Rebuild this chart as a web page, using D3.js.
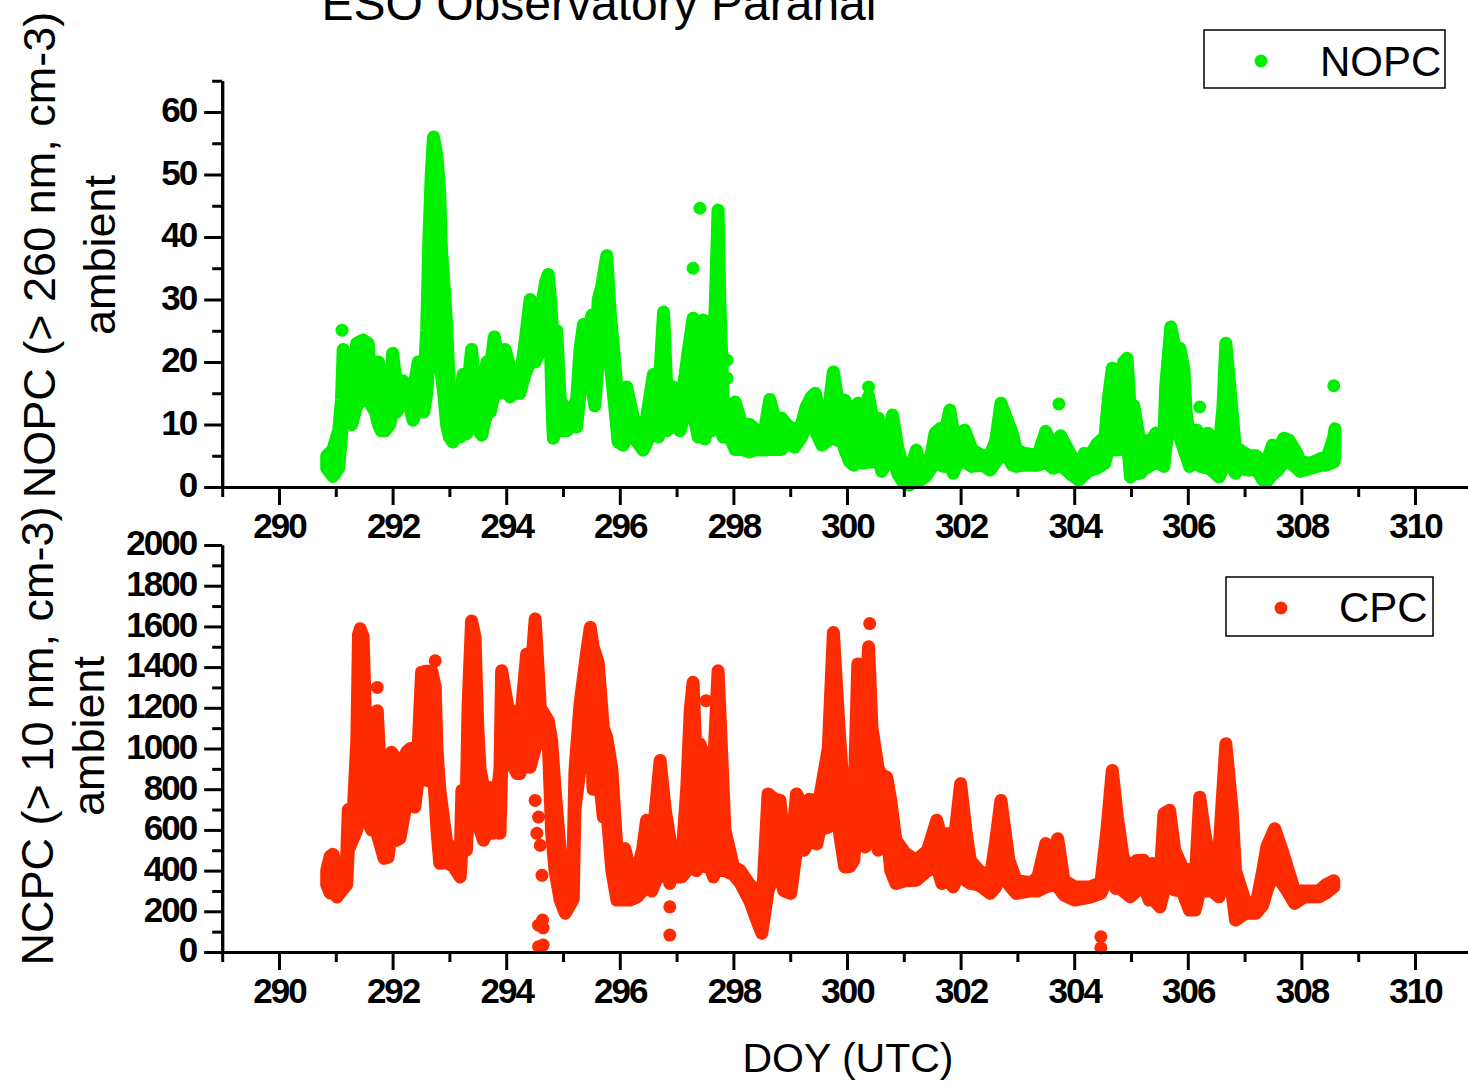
<!DOCTYPE html>
<html>
<head>
<meta charset="utf-8">
<script src="https://cdnjs.cloudflare.com/ajax/libs/d3/7.8.5/d3.min.js"></script>
<style>
body { margin:0; background:#ffffff; }
svg { display:block; font-family:"Liberation Sans", Arial, sans-serif; }
.axis path, .axis line { stroke:#000; stroke-width:3px; }
.axis text { font-weight:bold; font-size:35px; letter-spacing:-2px; fill:#000; }
.label { fill:#000; }
</style>
</head>
<body>
<svg id="chart"></svg>
<script>
// tick values
var doyMajor = [290,292,294,296,298,300,302,304,306,308,310];
var doyMinor = [289,291,293,295,297,299,301,303,305,307,309,311];
var nopcMajor = [0,10,20,30,40,50,60];
var nopcMinor = [5,15,25,35,45,55,65];
var cpcMajor = [0,200,400,600,800,1000,1200,1400,1600,1800,2000];
var cpcMinor = [100,300,500,700,900,1100,1300,1500,1700,1900];

// NOPC (> 260 nm): spread of the dense points (lowest / highest) at each DOY
var nopcDoy = [290.84,290.95,291.05,291.10,291.13,291.20,291.28,291.37,291.48,291.57,
    291.63,291.70,291.75,291.80,291.87,291.95,292.00,292.07,292.18,292.27,
    292.36,292.45,292.55,292.60,292.64,292.68,292.72,292.78,292.83,292.86,
    292.90,292.95,293.00,293.06,293.13,293.19,293.24,293.30,293.39,293.45,
    293.57,293.66,293.72,293.79,293.89,293.98,294.07,294.15,294.24,294.33,
    294.42,294.51,294.60,294.70,294.74,294.78,294.81,294.83,294.89,294.95,
    295.07,295.15,295.24,295.30,295.36,295.44,295.51,295.56,295.62,295.68,
    295.77,295.83,295.92,295.97,296.06,296.12,296.24,296.41,296.47,296.59,
    296.68,296.77,296.83,296.94,297.06,297.15,297.21,297.29,297.38,297.47,
    297.50,297.56,297.62,297.68,297.73,297.76,297.82,297.94,298.03,298.15,
    298.29,298.41,298.53,298.64,298.76,298.85,298.94,299.08,299.20,299.28,
    299.37,299.44,299.56,299.67,299.76,299.82,299.90,299.96,300.05,300.12,
    300.19,300.28,300.38,300.45,300.55,300.61,300.70,300.80,300.90,301.00,
    301.09,301.22,301.29,301.39,301.48,301.55,301.65,301.71,301.81,301.87,
    301.95,302.07,302.20,302.39,302.52,302.62,302.71,302.82,302.91,302.98,
    303.11,303.36,303.50,303.63,303.76,303.95,304.08,304.18,304.28,304.40,
    304.54,304.60,304.67,304.73,304.80,304.87,304.93,304.99,305.05,305.16,
    305.25,305.32,305.44,305.58,305.61,305.70,305.78,305.86,305.93,305.97,
    306.03,306.16,306.22,306.36,306.42,306.55,306.62,306.67,306.74,306.84,
    306.90,307.07,307.20,307.32,307.39,307.49,307.59,307.69,307.78,307.92,
    307.98,308.17,308.36,308.43,308.57,308.59];
var nopcLow = [3,1.7,3,8,12,11,10,13,14,14,
    13,12,10,9,9,10,12,12,14,14,
    10.7,13,12,15,20,22,25,20,20,18,
    15,10,8,7.2,8,8,9,8.5,10,10,
    8.3,12,12,15,15,16,14.4,15,15,18,
    20,20,22,25,26,22,12,7.8,10,9,
    9,10,9.6,15,20,21,16,13,20,25,
    27,20,12,7.2,6.7,8,8,5.9,7,10,
    8,12,9,10,9,12,14,12,8,10,
    7.7,10,9,10,12,10,8,8,6,6,
    5.6,6,5.9,6,6,6,7,6.4,8,10,
    10,9,6.7,7.5,9,7.5,8,6,4,3.5,
    5,3.8,4,4,5,2.5,4,5,2,0.6,
    0.3,1,1.1,1.7,3,4,3.5,3.3,4,2.2,
    4,4,3.3,3.5,2.7,4,5,5,3.5,3.3,
    3.5,3.5,4,3,3.5,2,1.1,2,2.7,3,
    3.8,6,8,5.9,6,10,8,1.6,2,2.2,
    3,3.3,4,3.3,6,12,8.6,8,6,5,
    3.3,4,3.3,3,2.7,1.6,3,5,4,2.2,
    3,2.7,3,1.1,0.9,2,2.7,4,4,3,
    2.5,3,3.5,3.5,4,5];
var nopcHigh = [5,6,9,14,22,17,15,23,23.5,23,
    16,18,20,15,12,14,21.4,16,17,16,
    15,20,17,25,40,50,56,53,47,38,
    33,26,16,13,15,14,18,14,22,16,
    14,20,19,24,19,22,19,18,17,23,
    30,26,28,33,34,30,26,24,25,14,
    12,12,14,22,26,25,27.5,20,30,32,
    37,28,19,13,10,16,11,9,11,18,
    14,28,15,16,13,18,22,27,20,26.7,
    18,20,18,29,44.3,30,14,12,13.6,10,
    10,9,8,14,10,11,10,9,10,12.8,
    14.4,15,10,12,18.4,15,12,13.9,12,10,
    13.4,12,14.5,11,11,8,6,11.5,6,3,
    2,5.9,3,4,5,8.6,9.4,8,12.3,9,
    8,9.1,6,5,5,7.5,13.4,10.7,8.6,6,
    5.4,5,8.9,6,8.2,5,3,5.4,5,6.9,
    8,14,19,16,16,20,20.6,12,13,7,
    7.4,7,8.6,8,16,25.6,22,22.2,18.9,12,
    8,9.1,8,8.6,7,6,13,23,16,6,
    6,5,5,4,4,6.7,6,7.8,7.5,5.4,
    4,3.8,4.6,4,8,9.3];
// isolated NOPC points
var nopcOutDoy = [291.11,297.29,297.41,297.89,297.89,300.38,303.73,306.21,308.57];
var nopcOutVal = [25.1,35,44.6,20.3,17.4,16,13.3,12.8,16.2];

// CPC (> 10 nm): spread of the dense points (lowest / highest) at each DOY
var cpcDoy = [290.84,290.90,290.95,291.02,291.10,291.19,291.22,291.31,291.37,291.40,
    291.43,291.48,291.54,291.60,291.63,291.70,291.73,291.78,291.85,291.92,
    291.98,292.07,292.13,292.25,292.31,292.39,292.45,292.51,292.60,292.69,
    292.75,292.78,292.83,292.95,293.07,293.19,293.22,293.30,293.33,293.39,
    293.45,293.50,293.54,293.60,293.69,293.77,293.83,293.89,293.92,294.04,
    294.07,294.19,294.24,294.36,294.42,294.51,294.56,294.60,294.74,294.80,
    294.86,294.95,295.04,295.10,295.18,295.21,295.30,295.42,295.48,295.53,
    295.62,295.71,295.77,295.86,295.95,296.09,296.18,296.30,296.40,296.47,
    296.56,296.71,296.80,296.94,297.09,297.18,297.24,297.29,297.35,297.41,
    297.50,297.59,297.65,297.73,297.79,297.85,298.00,298.12,298.29,298.41,
    298.50,298.61,298.73,298.82,298.89,299.01,299.11,299.17,299.24,299.34,
    299.47,299.52,299.67,299.76,299.86,299.96,300.05,300.12,300.19,300.25,
    300.32,300.38,300.44,300.55,300.61,300.70,300.77,300.86,301.03,301.22,
    301.42,301.58,301.67,301.78,301.87,302.00,302.10,302.17,302.32,302.52,
    302.62,302.71,302.85,302.98,303.24,303.36,303.50,303.63,303.71,303.82,
    304.01,304.28,304.47,304.57,304.67,304.76,304.86,304.99,305.10,305.22,
    305.32,305.38,305.51,305.58,305.68,305.77,305.90,306.03,306.13,306.21,
    306.29,306.42,306.55,306.67,306.78,306.84,307.01,307.20,307.32,307.39,
    307.53,307.66,307.75,307.88,308.05,308.31,308.43,308.57];
var cpcLow = [330,290,300,270,300,330,500,560,600,700,
    750,700,640,620,600,600,580,530,460,466,
    600,549,560,745,745,712,850,900,843,1000,
    745,600,436,440,420,369,500,500,700,1000,
    800,640,600,549,600,583,600,583,900,941,
    941,877,877,1000,908,1000,1040,1039,1039,583,
    400,255,191,220,260,700,900,1000,1200,800,
    900,663,700,400,255,255,255,270,300,350,
    300,400,369,369,369,400,500,500,400,450,
    419,419,369,500,400,400,380,340,250,157,
    92,300,400,369,300,288,500,550,500,550,
    531,600,614,800,600,418,420,451,700,600,
    516,800,614,500,516,600,400,337,350,353,
    400,420,337,350,320,400,350,337,330,288,
    320,400,330,288,300,300,320,330,320,280,
    255,270,288,350,400,350,300,271,300,330,
    255,260,222,300,400,304,300,206,206,300,
    300,300,271,400,288,157,190,190,230,300,
    400,337,300,239,270,271,290,320];
var cpcHigh = [400,470,480,400,380,450,700,700,1040,1560,
    1588,1550,1000,900,1000,1000,1186,900,700,750,
    982,950,900,985,1000,1000,1006,1374,1380,1380,
    1300,1000,800,540,500,470,794,800,1219,1627,
    1550,1100,900,810,810,800,745,900,1382,1186,
    1150,1186,1100,1464,1300,1637,1400,1200,1137,1039,
    800,500,300,320,500,890,1220,1480,1595,1500,
    1420,1100,1055,900,500,508,400,400,500,647,
    500,941,700,450,450,810,1186,1325,900,1023,
    950,877,900,1382,1000,600,420,400,330,300,
    200,777,750,745,550,470,777,745,700,750,
    745,760,1000,1570,1100,700,600,700,1415,1300,
    1200,1500,1100,900,870,859,745,550,484,450,
    500,647,550,582,500,827,582,450,402,360,
    549,745,451,350,340,369,533,484,557,350,
    320,320,340,582,892,663,467,400,450,451,
    400,435,350,680,696,500,418,400,350,761,
    600,400,500,1023,700,400,250,230,400,516,
    606,500,418,300,300,300,330,350];
// isolated CPC points
var cpcOutDoy = [291.73,292.75,294.51,294.54,294.57,294.60,294.63,294.57,294.64,294.65,
    294.57,294.65,296.88,296.88,296.88,297.52,300.40,304.47,304.47,304.73];
var cpcOutVal = [1300,1431,745,583,663,524,377,132,157,118,
    26,34,337,222,83,1235,1614,75,20,312];

var green = "#00f000";
var red = "#ff2b00";

var toBand = function(xs, lows, highs)
{
    return xs.map(function(x, i){ return {doy:x, low:lows[i], high:highs[i]}; });
}
var toPoints = function(xs, ys)
{
    return xs.map(function(x, i){ return {doy:x, val:ys[i]}; });
}

var initChart = function(target)
{
    var screen = {width:1468, height:1083};
    var svg = d3.select(target)
        .attr("width", screen.width)
        .attr("height", screen.height);

    var xScale = d3.scaleLinear()
        .domain([289, 311])
        .range([222.2, 1471.8]);

    var top = {y0:487, y1:80.75};
    var bottom = {y0:952, y1:545};

    var yTop = d3.scaleLinear().domain([0, 65]).range([top.y0, top.y1]);
    var yBottom = d3.scaleLinear().domain([0, 2000]).range([bottom.y0, bottom.y1]);

    drawSeries(svg, toBand(nopcDoy, nopcLow, nopcHigh), toPoints(nopcOutDoy, nopcOutVal), xScale, yTop, green);
    drawSeries(svg, toBand(cpcDoy, cpcLow, cpcHigh), toPoints(cpcOutDoy, cpcOutVal), xScale, yBottom, red);

    createAxes(svg, xScale, yTop, top.y0, nopcMajor, nopcMinor);
    createAxes(svg, xScale, yBottom, bottom.y0, cpcMajor, cpcMinor);

    createLegend(svg, {x:1204, y:30, w:241, h:58}, {x:1261, y:61}, 1320, 76, "NOPC", green);
    createLegend(svg, {x:1226, y:577, w:207, h:59}, {x:1281, y:608}, 1339, 622, "CPC", red);

    createLabels(svg);
}

// dense scatter: the band between lowest and highest points, outlined with
// the marker radius so its edges round off like the overlapping dots
var drawSeries = function(svg, band, outliers, xScale, yScale, color)
{
    var g = svg.append("g").classed("series", true);

    var areaGenerator = d3.area()
        .x(function(p){ return xScale(p.doy); })
        .y0(function(p){ return yScale(p.low); })
        .y1(function(p){ return yScale(p.high); });

    g.append("path")
        .datum(band)
        .attr("d", areaGenerator)
        .attr("fill", color)
        .attr("stroke", color)
        .attr("stroke-width", 13)
        .attr("stroke-linejoin", "round")
        .attr("stroke-linecap", "round");

    g.selectAll("circle")
        .data(outliers)
        .enter()
        .append("circle")
        .attr("cx", function(p){ return xScale(p.doy); })
        .attr("cy", function(p){ return yScale(p.val); })
        .attr("r", 6.5)
        .attr("fill", color);
}

var createAxes = function(svg, xScale, yScale, y0, major, minor)
{
    var x0 = xScale(289);

    // x axis: labelled even days, short odd-day ticks
    svg.append("g")
        .classed("axis", true)
        .attr("transform", "translate(0," + y0 + ")")
        .call(d3.axisBottom(xScale).tickValues(doyMinor).tickSize(10).tickSizeOuter(0).tickFormat(""));
    svg.append("g")
        .classed("axis", true)
        .attr("transform", "translate(0," + y0 + ")")
        .call(d3.axisBottom(xScale).tickValues(doyMajor).tickSize(18).tickSizeOuter(0).tickPadding(8)
            .tickFormat(d3.format("d")));

    // y axis
    svg.append("g")
        .classed("axis", true)
        .attr("transform", "translate(" + x0 + ",0)")
        .call(d3.axisLeft(yScale).tickValues(minor).tickSize(10).tickSizeOuter(0).tickFormat(""));
    var yAxis = svg.append("g")
        .classed("axis", true)
        .attr("transform", "translate(" + x0 + ",0)")
        .call(d3.axisLeft(yScale).tickValues(major).tickSize(18).tickSizeOuter(0).tickPadding(8)
            .tickFormat(d3.format("d")));
    yAxis.selectAll("text").attr("dy", "0.28em");
}

var createLegend = function(svg, box, dot, tx, ty, name, color)
{
    var legend = svg.append("g").classed("legend", true);
    legend.append("rect")
        .attr("x", box.x)
        .attr("y", box.y)
        .attr("width", box.w)
        .attr("height", box.h)
        .attr("fill", "#fff")
        .attr("stroke", "#000")
        .attr("stroke-width", 1.5);
    legend.append("circle")
        .attr("cx", dot.x)
        .attr("cy", dot.y)
        .attr("r", 6.5)
        .attr("fill", color);
    legend.append("text")
        .text(name)
        .attr("x", tx)
        .attr("y", ty)
        .style("font-size", "42px")
        .attr("fill", "#000");
}

var createLabels = function(svg)
{
    var labels = svg.append("g").classed("labels", true);

    labels.append("text")
        .text("ESO Observatory Paranal")
        .classed("label", true)
        .attr("text-anchor", "middle")
        .attr("x", 599)
        .attr("y", 20)
        .style("font-size", "48px");

    labels.append("text")
        .text("DOY (UTC)")
        .classed("label", true)
        .attr("text-anchor", "middle")
        .attr("x", 848)
        .attr("y", 1072)
        .style("font-size", "41px");

    var yTitle = function(line1, line2, cy, b1, b2)
    {
        labels.append("text")
            .text(line1)
            .classed("label", true)
            .attr("text-anchor", "middle")
            .style("font-size", "45px")
            .attr("transform", "translate(" + b1 + "," + cy + ") rotate(-90)");
        labels.append("text")
            .text(line2)
            .classed("label", true)
            .attr("text-anchor", "middle")
            .style("font-size", "45px")
            .attr("transform", "translate(" + b2 + "," + cy + ") rotate(-90)");
    }
    yTitle("NOPC (> 260 nm, cm-3)", "ambient", 255, 55, 115);
    yTitle("NCPC (> 10 nm, cm-3)", "ambient", 736, 53, 104);
}

initChart("#chart");
</script>
</body>
</html>
